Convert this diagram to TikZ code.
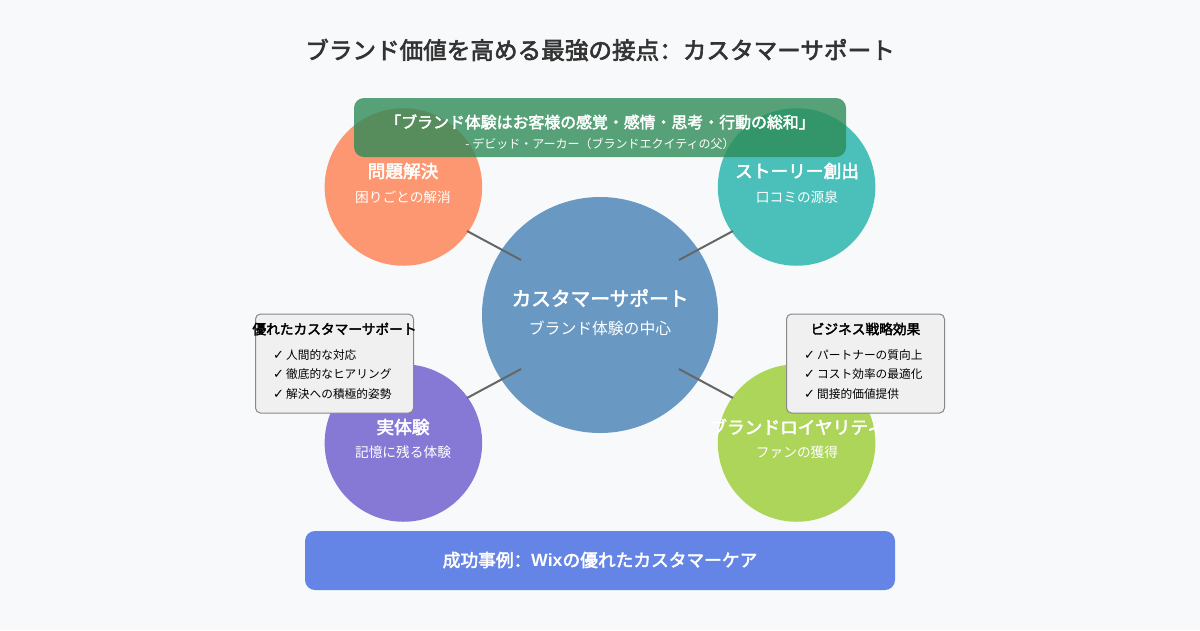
\documentclass[tikz,border=0pt]{standalone}
\usepackage{fontspec}
\setmainfont{Noto Sans CJK JP}[BoldFont={Noto Sans CJK JP},BoldFeatures={FakeBold=2.6}]
\newfontfamily\checkfont{DejaVu Sans}
\newfontfamily\colonfont{Noto Sans CJK SC}[BoldFont={Noto Sans CJK SC},BoldFeatures={FakeBold=2.6}]
\newfontfamily\latinfont{Liberation Sans}
\usepackage{tikz}
\usetikzlibrary{shapes,calc,positioning}
\definecolor{paper}{HTML}{F8F9FA}
\definecolor{ink}{HTML}{333333}
\definecolor{wire}{HTML}{666666}
\definecolor{cardedge}{HTML}{888888}
\definecolor{cardfill}{HTML}{F0F0F0}
\definecolor{coral}{HTML}{FF7F50}
\definecolor{sea}{HTML}{20B2AA}
\definecolor{slate}{HTML}{6A5ACD}
\definecolor{olive}{HTML}{9ACD32}
\definecolor{steel}{HTML}{4682B4}
\definecolor{royal}{HTML}{4169E1}
\definecolor{seagreen}{HTML}{2E8B57}
\newcommand{\tick}{\makebox[13pt][l]{\checkfont\fontsize{13}{13}\selectfont ✓}}
\newcommand{\widecolon}{{\colonfont ：}}
\tikzstyle{ball} = [circle, inner sep=0, minimum size=157.5pt, fill opacity=0.8, draw=none]
\tikzstyle{band} = [rectangle, rounded corners=10pt, inner sep=0, fill opacity=0.8, draw=none]
\tikzstyle{card} = [rectangle, rounded corners=5pt, inner sep=0, draw=cardedge, line width=1pt, fill=cardfill, minimum width=158pt, minimum height=99pt]
\tikzstyle{wirepath} = [draw=wire, line width=2pt]
\tikzstyle{head} = [inner sep=0, white, font=\fontsize{17.7}{22}\selectfont\bfseries]
\tikzstyle{sub} = [inner sep=0, white, font=\fontsize{13.7}{18}\selectfont]
\tikzstyle{cardhead} = [inner sep=0, black, font=\fontsize{13.7}{18}\selectfont\bfseries]
\tikzstyle{cardlist} = [inner sep=0, black, align=left, anchor=north west, font=\fontsize{11.7}{19.5}\selectfont]
\begin{document}
\begin{tikzpicture}[x=1pt,y=-1pt]
    \useasboundingbox[fill=paper] (0,0) rectangle (1200,630);
    \node[inner sep=0,ink,font=\fontsize{23.6}{28}\selectfont\bfseries] (title) at (600,50) {ブランド価値を高める最強の接点\widecolon カスタマーサポート};
    % outer circles
    \node[ball,fill=coral] (problem) at (403.4,187) {};
    \node[ball,fill=sea] (story) at (796.6,187) {};
    \node[ball,fill=slate] (real) at (403.4,443) {};
    \node[ball,fill=olive] (loyal) at (796.6,443) {};
    \node[ball,fill=steel,minimum size=236pt] (support) at (600,315) {};
    % connectors
    \coordinate (wireAa) at (467,231);
    \coordinate (wireAb) at (521,260);
    \coordinate (wireBa) at (733,231);
    \coordinate (wireBb) at (679,260);
    \coordinate (wireCa) at (467,398);
    \coordinate (wireCb) at (521,369);
    \coordinate (wireDa) at (733,398);
    \coordinate (wireDb) at (679,369);
    \draw[wirepath] (wireAa) -- (wireAb);
    \draw[wirepath] (wireBa) -- (wireBb);
    \draw[wirepath] (wireCa) -- (wireCb);
    \draw[wirepath] (wireDa) -- (wireDb);
    % circle texts
    \node[head,font=\fontsize{19.7}{24}\selectfont\bfseries] (supporthead) at (600,298) {カスタマーサポート};
    \node[sub,font=\fontsize{15.8}{20}\selectfont] (supportsub) at (600,328) {ブランド体験の中心};
    \node[head] (problemhead) at (403,171) {問題解決};
    \node[sub] (problemsub) at (403,197) {困りごとの解消};
    \node[head] (storyhead) at (797,171) {ストーリー創出};
    \node[sub] (storysub) at (797,197) {口コミの源泉};
    \node[head] (realhead) at (403,427) {実体験};
    \node[sub] (realsub) at (403,452) {記憶に残る体験};
    \node[head] (loyalhead) at (797,427) {ブランドロイヤリティ};
    \node[sub] (loyalsub) at (797,452) {ファンの獲得};
    % quote band
    \node[band,fill=seagreen,minimum width=492pt,minimum height=59pt] (quote) at (600,127.5) {};
    \node[head,font=\fontsize{15.9}{20}\selectfont\bfseries] (quotehead) at (600,122) {「ブランド体験はお客様の感覚・感情・思考・行動の総和」};
    \node[sub,font=\fontsize{12}{16}\selectfont] (quotesub) at (600,144) {- デビッド・アーカー（ブランドエクイティの父）};
    % cards
    \node[card] (cardL) at (334.5,363.5) {};
    \node[cardhead] (cardLhead) at (334.5,329) {優れたカスタマーサポート};
    \node[cardlist] (cardLlist) at (273,349) {\tick 人間的な対応\\\tick 徹底的なヒアリング\\\tick 解決への積極的姿勢};
    \node[card] (cardR) at (865.5,363.5) {};
    \node[cardhead] (cardRhead) at (865.5,329) {ビジネス戦略効果};
    \node[cardlist] (cardRlist) at (804,349) {\tick パートナーの質向上\\\tick コスト効率の最適化\\\tick 間接的価値提供};
    % bottom band
    \node[band,fill=royal,minimum width=590pt,minimum height=59pt] (casebar) at (600,560.5) {};
    \node[head] (casetext) at (600,560) {成功事例\widecolon {\latinfont\bfseries Wix}の優れたカスタマーケア};
\end{tikzpicture}
\end{document}
